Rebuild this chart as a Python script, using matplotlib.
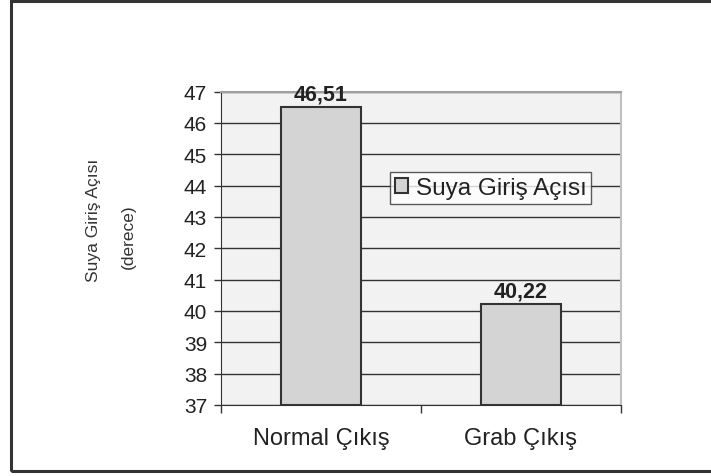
import matplotlib
matplotlib.use("Agg")
import numpy as np
import matplotlib.pyplot as plt
from matplotlib.patches import Rectangle

categories = ["Normal Çıkış", "Grab Çıkış"]
values = [46.51, 40.22]
value_labels = ["46,51", "40,22"]
series_name = "Suya Giriş Açısı"
y_ticks = list(range(37, 48))

plt.rcParams['font.family'] = ['Liberation Sans', 'DejaVu Sans']

fig = plt.figure(figsize=(7.11, 4.77), dpi=100)

# outer chart frame (runs off the right edge)
fig.patches.append(Rectangle((11 / 711, 5 / 477), 1.2, 1 - 6.5 / 477, transform=fig.transFigure,
                             fill=False, edgecolor='#333333', linewidth=2.2, zorder=0))

ax = fig.add_axes([221 / 711, 71 / 477, 400 / 711, 313.5 / 477])
ax.set_facecolor('#f2f2f2')

x = np.arange(len(categories))
bars = ax.bar(x, [v - 37 for v in values], bottom=37, width=0.4,
              color='#d4d4d4', edgecolor='#333333', linewidth=1.5,
              label=series_name, zorder=3)

for xi, v, lab in zip(x, values, value_labels):
    ax.annotate(lab, (xi, v), xytext=(0, 2), textcoords='offset points',
                ha='center', va='bottom', fontsize=15.5, fontweight='bold',
                color='#222222', zorder=4, annotation_clip=False)

ax.set_xlim(-0.5, 1.5)
ax.set_ylim(37, 47)
ax.set_yticks(y_ticks)
ax.tick_params(axis='y', labelsize=15, length=5, width=1, color='#333333',
               labelcolor='#222222', pad=5)
ax.yaxis.grid(True, color='#333333', linewidth=1, zorder=1)
ax.set_axisbelow(True)

# category boundaries as x ticks, labels in the middle
ax.set_xticks([-0.5, 0.5, 1.5])
ax.set_xticklabels([])
ax.set_xticks(x, minor=True)
ax.set_xticklabels(categories, minor=True)
ax.tick_params(axis='x', which='major', length=6, width=1, color='#333333')
ax.tick_params(axis='x', which='minor', length=0, labelsize=17,
               labelcolor='#222222', pad=16)

ax.spines['left'].set_color('#333333')
ax.spines['bottom'].set_color('#333333')
ax.spines['top'].set_color('#a0a0a0')
ax.spines['right'].set_color('#c0c0c0')
ax.spines['top'].set_linewidth(1.5)
ax.spines['right'].set_linewidth(1.5)

fig.text(93 / 711, 1 - 220 / 477, series_name, rotation=90, ha='center', va='center',
         fontsize=12.5, color='#333333')
fig.text(128 / 711, 1 - 237 / 477, "(derece)", rotation=90, ha='center', va='center',
         fontsize=12.5, color='#333333')

leg = fig.legend(handles=[bars], labels=[series_name], loc='upper left',
                 bbox_to_anchor=(390 / 711, 1 - 173 / 477), fontsize=17.5,
                 frameon=True, fancybox=False, borderaxespad=0,
                 handlelength=0.55, handleheight=0.55, handletextpad=0.3,
                 borderpad=0.2)
leg.get_frame().set_edgecolor('#333333')
leg.get_frame().set_linewidth(1)
for t in leg.get_texts():
    t.set_color('#222222')

fig.savefig("out.png", dpi=100)
